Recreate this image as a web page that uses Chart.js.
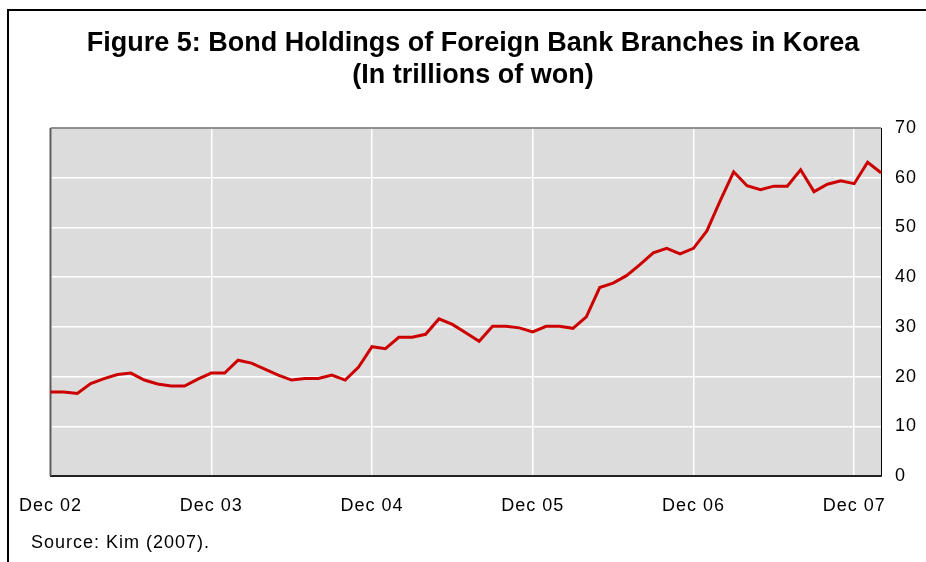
<!DOCTYPE html>
<html>
<head>
<meta charset="utf-8">
<script src="https://cdn.jsdelivr.net/npm/chart.js@4/dist/chart.umd.min.js"></script>
<style>
html,body{margin:0;padding:0;background:#fff;}
#wrap{position:relative;width:926px;height:562px;overflow:hidden;font-family:Arial,"Liberation Sans",sans-serif;color:#000;}
#frame{position:absolute;left:7px;top:9px;width:960px;height:600px;border-left:2px solid #000;border-top:2px solid #000;}
#title{position:absolute;left:0;top:26px;width:946px;text-align:center;font-weight:bold;font-size:27px;line-height:32px;}
#source{position:absolute;left:31px;top:532px;font-size:18px;line-height:20px;letter-spacing:1px;white-space:nowrap;}
#c{position:absolute;left:0;top:0;}
</style>
</head>
<body>
<div id="wrap">
  <div id="frame"></div>
  <canvas id="c" width="926" height="562"></canvas>
  <div id="title">Figure 5: Bond Holdings of Foreign Bank Branches in Korea<br>(In trillions of won)</div>
  <div id="source">Source: Kim (2007).</div>
</div>
<script>
// Monthly categories, Dec 2002 - Feb 2008
const months = [
  'Dec 02',
  'Jan 03','Feb 03','Mar 03','Apr 03','May 03','Jun 03','Jul 03','Aug 03','Sep 03','Oct 03','Nov 03','Dec 03',
  'Jan 04','Feb 04','Mar 04','Apr 04','May 04','Jun 04','Jul 04','Aug 04','Sep 04','Oct 04','Nov 04','Dec 04',
  'Jan 05','Feb 05','Mar 05','Apr 05','May 05','Jun 05','Jul 05','Aug 05','Sep 05','Oct 05','Nov 05','Dec 05',
  'Jan 06','Feb 06','Mar 06','Apr 06','May 06','Jun 06','Jul 06','Aug 06','Sep 06','Oct 06','Nov 06','Dec 06',
  'Jan 07','Feb 07','Mar 07','Apr 07','May 07','Jun 07','Jul 07','Aug 07','Sep 07','Oct 07','Nov 07','Dec 07',
  'Jan 08','Feb 08'
];
// Bond holdings, trillions of won
const bondHoldings = [
  16.9,
  16.9,16.6,18.6,19.6,20.4,20.7,19.3,18.5,18.1,18.1,19.5,20.7,
  20.7,23.3,22.7,21.5,20.3,19.3,19.6,19.6,20.3,19.3,21.9,26.0,
  25.6,27.9,27.9,28.5,31.6,30.5,28.8,27.1,30.1,30.1,29.8,29.0,
  30.1,30.1,29.7,32.0,37.9,38.8,40.3,42.5,44.9,45.8,44.7,45.8,
  49.3,55.4,61.2,58.4,57.6,58.3,58.3,61.6,57.2,58.7,59.4,58.8,
  63.1,61.0
];
const xTickLabels = ['Dec 02','Dec 03','Dec 04','Dec 05','Dec 06','Dec 07'];
const yTicks = [0,10,20,30,40,50,60,70];

Chart.defaults.font.family = 'Arial, "Liberation Sans", sans-serif';
Chart.defaults.color = '#000';

const spacing = {
  id: 'spacing',
  beforeUpdate(chart){ chart.ctx.letterSpacing = '1px'; },
  beforeLayout(chart){ chart.ctx.letterSpacing = '1px'; },
  beforeDraw(chart){
    const ctx = chart.ctx, a = chart.chartArea;
    ctx.letterSpacing = '1px';
    ctx.save();
    ctx.fillStyle = '#dcdcdc';
    ctx.fillRect(a.left, a.top, a.right - a.left, a.bottom - a.top);
    ctx.restore();
  },
  beforeDatasetsDraw(chart){
    const ctx = chart.ctx, a = chart.chartArea;
    ctx.save();
    ctx.strokeStyle = '#5a5a5a';
    ctx.lineWidth = 2;
    ctx.beginPath();
    ctx.moveTo(a.left, a.bottom);
    ctx.lineTo(a.left, a.top);
    ctx.stroke();
    ctx.lineWidth = 1.5;
    ctx.strokeStyle = '#6e6e6e';
    ctx.beginPath();
    ctx.moveTo(a.left, a.top);
    ctx.lineTo(a.right, a.top);
    ctx.stroke();
    ctx.restore();
  }
};

new Chart(document.getElementById('c'), {
  type: 'line',
  data: {
    labels: months,
    datasets: [{
      data: bondHoldings,
      borderColor: '#cc0000',
      borderWidth: 3,
      pointRadius: 0,
      tension: 0,
      fill: false
    }]
  },
  options: {
    responsive: false,
    animation: false,
    devicePixelRatio: 1,
    layout: { padding: { left: 50, top: 128, right: 0, bottom: 46 } },
    plugins: { legend: { display: false }, title: { display: false }, tooltip: { enabled: false } },
    scales: {
      x: {
        type: 'category',
        offset: false,
        afterFit(s){ s.height = 40; },
        grid: {
          color: c => (c.index % 12 === 0 ? '#ffffff' : 'rgba(0,0,0,0)'),
          lineWidth: 1.5,
          drawTicks: false
        },
        border: { color: '#222', width: 2 },
        ticks: {
          autoSkip: false,
          maxRotation: 0,
          minRotation: 0,
          padding: 19,
          font: { size: 18 },
          color: '#000',
          callback: (v, i) => (i % 12 === 0 ? xTickLabels[i / 12] : '')
        }
      },
      y: {
        position: 'right',
        min: 0,
        max: 70,
        afterFit(s){ s.width = 45; },
        afterBuildTicks(s){ s.ticks = yTicks.map(v => ({ value: v })); },
        grid: { color: '#ffffff', lineWidth: 1.5, drawTicks: false },
        border: { color: '#000', width: 1 },
        ticks: { padding: 14, font: { size: 18 }, color: '#000' }
      }
    }
  },
  plugins: [spacing]
});
</script>
</body>
</html>
